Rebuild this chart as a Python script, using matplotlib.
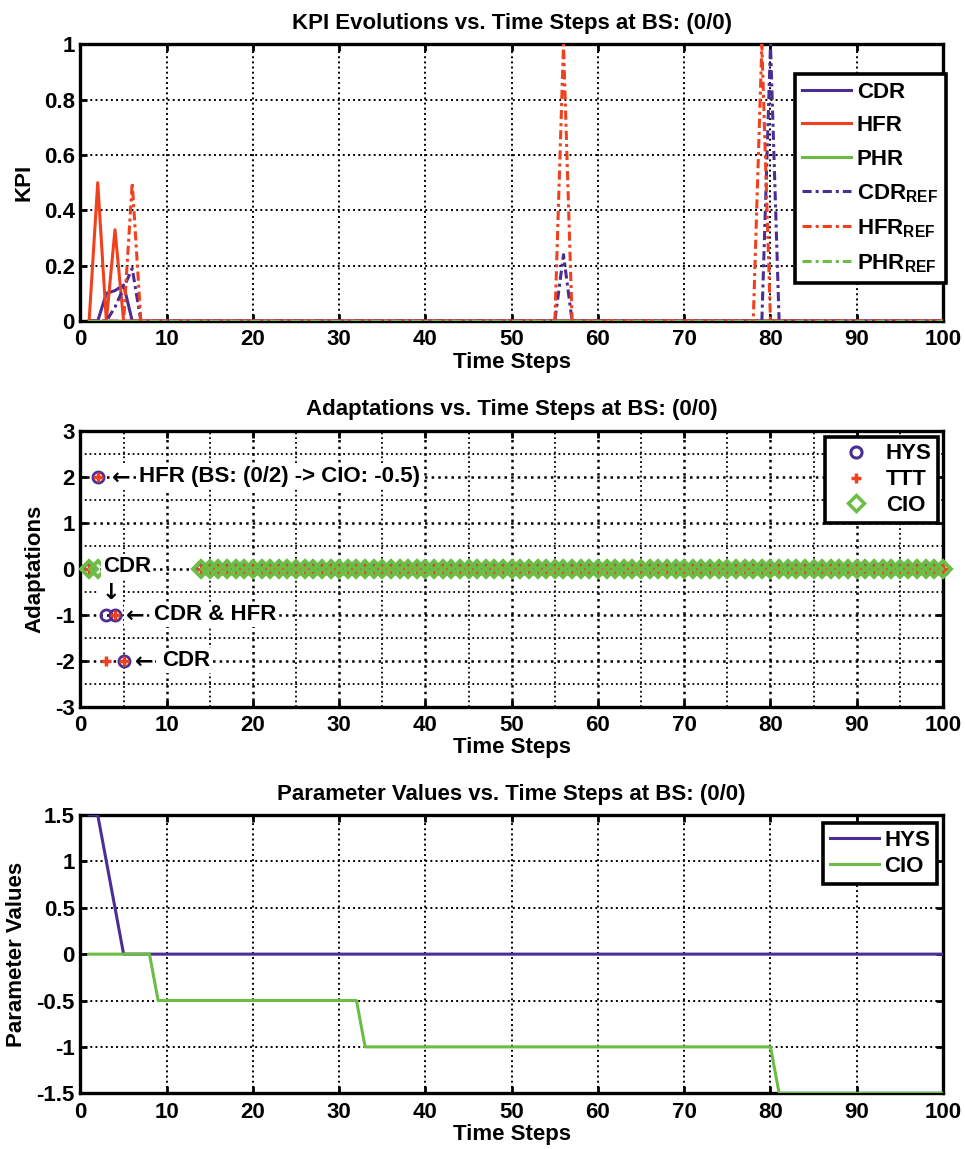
import numpy as np
import matplotlib
matplotlib.use('Agg')
import matplotlib.pyplot as plt
from matplotlib.ticker import MultipleLocator, FuncFormatter
from matplotlib.lines import Line2D

plt.rcParams['font.family'] = ['Liberation Sans', 'DejaVu Sans']
plt.rcParams['font.weight'] = 'bold'
plt.rcParams['axes.titleweight'] = 'bold'
plt.rcParams['axes.labelweight'] = 'bold'
plt.rcParams['axes.unicode_minus'] = False
plt.rcParams['mathtext.fontset'] = 'custom'
plt.rcParams['mathtext.rm'] = 'Liberation Sans:bold'
plt.rcParams['mathtext.bf'] = 'Liberation Sans:bold'
plt.rcParams['mathtext.it'] = 'Liberation Sans:bold'

PURPLE = '#4b2e95'
RED = '#f0411f'
GREEN = '#6cbd45'
FS = 16

time_steps = np.arange(1, 101)

# ---- KPI values (only the non-zero samples, keyed by time step) ----
cdr_nonzero = {3: 0.10, 4: 0.11, 5: 0.13}
hfr_nonzero = {2: 0.50, 4: 0.33}
phr_nonzero = {}
cdr_ref_nonzero = {4: 0.05, 5: 0.12, 6: 0.19, 56: 0.24, 80: 1.0}
hfr_ref_nonzero = {6: 0.50, 56: 1.0, 79: 1.0}
phr_ref_nonzero = {}

# ---- adaptations per time step ----
adapt_steps_early = [1, 2, 3, 4, 5]
hys_adapt_early = [0, 2, -1, -1, -2]
ttt_adapt_early = [0, 2, -2, -1, -2]
cio_steps_early = [1, 2]
cio_adapt_early = [0, 0]
adapt_steps_late = list(range(14, 101))
adapt_late = [0] * len(adapt_steps_late)

# ---- parameter values per time step ----
hys_values = [1.5, 1.5, 1.0, 0.5] + [0.0] * 96
cio_values = [0.0] * 8 + [-0.5] * 24 + [-1.0] * 48 + [-1.5] * 20


def kpi_series(nonzero):
    series = np.zeros(len(time_steps))
    for step, value in nonzero.items():
        series[step - 1] = value
    return series


def g_fmt(v, _pos):
    return '%g' % v


DASHDOT = (0, (3.0, 1.3, 1.0, 1.3))
LINE_Z = 3

fig = plt.figure(figsize=(9.65, 11.49), dpi=100)
left, width = 0.0834, 0.8938
ax1 = fig.add_axes([left, 0.7206, width, 0.2408])
ax2 = fig.add_axes([left, 0.3849, width, 0.2402])
ax3 = fig.add_axes([left, 0.0485, width, 0.2422])


def style_axes(ax, title, ylabel, ylim, ystep, grid_lw=1.4):
    ax.set_xlim(0, 100)
    ax.set_ylim(*ylim)
    ax.xaxis.set_major_locator(MultipleLocator(10))
    ax.yaxis.set_major_locator(MultipleLocator(ystep))
    ax.yaxis.set_major_formatter(FuncFormatter(g_fmt))
    ax.set_title(title, fontsize=FS, pad=11)
    ax.set_xlabel('Time Steps', fontsize=FS, labelpad=1)
    ax.set_ylabel(ylabel, fontsize=FS, labelpad=7)
    ax.tick_params(which='major', direction='in', length=5, width=2,
                   top=True, right=True, labelsize=FS)
    ax.tick_params(axis='x', pad=6)
    ax.tick_params(axis='y', pad=4)
    for sp in ax.spines.values():
        sp.set_linewidth(2.4)
    ax.set_axisbelow(True)
    ax.grid(True, which='major', linestyle=':', color='k', linewidth=grid_lw)


def style_legend(leg):
    leg.set_zorder(5)
    fr = leg.get_frame()
    fr.set_linewidth(2.6)
    fr.set_edgecolor('black')
    fr.set_facecolor('white')
    fr.set_alpha(1)


# ---------------- KPI panel ----------------
style_axes(ax1, 'KPI Evolutions vs. Time Steps at BS: (0/0)', 'KPI', (0, 1), 0.2)
lw = 2.2
ax1.plot(time_steps, kpi_series(cdr_nonzero), color=PURPLE, lw=lw, label='CDR', zorder=LINE_Z)
ax1.plot(time_steps, kpi_series(hfr_nonzero), color=RED, lw=lw, label='HFR', zorder=LINE_Z)
ax1.plot(time_steps, kpi_series(phr_nonzero), color=GREEN, lw=lw, label='PHR', zorder=LINE_Z)
ax1.plot(time_steps, kpi_series(cdr_ref_nonzero), color=PURPLE, lw=lw,
         linestyle=DASHDOT, label=r'CDR$_{\mathbf{REF}}$', zorder=LINE_Z)
ax1.plot(time_steps, kpi_series(hfr_ref_nonzero), color=RED, lw=lw,
         linestyle=DASHDOT, label=r'HFR$_{\mathbf{REF}}$', zorder=LINE_Z)
ax1.plot(time_steps, kpi_series(phr_ref_nonzero), color=GREEN, lw=lw,
         linestyle=DASHDOT, label=r'PHR$_{\mathbf{REF}}$', zorder=LINE_Z)
leg1 = ax1.legend(loc='upper right', bbox_to_anchor=(1.003, 0.893),
                  borderaxespad=0, fontsize=FS, fancybox=False,
                  handlelength=2.2, handletextpad=0.25, labelspacing=0.56,
                  borderpad=0.35)
style_legend(leg1)

# ---------------- Adaptations panel ----------------
style_axes(ax2, 'Adaptations vs. Time Steps at BS: (0/0)', 'Adaptations', (-3, 3), 1,
           grid_lw=1.8)
ax2.xaxis.set_minor_locator(MultipleLocator(5))
ax2.yaxis.set_minor_locator(MultipleLocator(0.5))
ax2.tick_params(which='minor', length=0)
ax2.grid(True, which='minor', linestyle=':', color='k', linewidth=1.3)

hys_kw = dict(linestyle='none', marker='o', markersize=8, mfc='none',
              mec=PURPLE, mew=2, clip_on=False, zorder=LINE_Z)
ttt_kw = dict(linestyle='none', marker='+', markersize=7, color=RED,
              mew=2.5, clip_on=False, zorder=LINE_Z)
cio_kw = dict(linestyle='none', marker='D', markersize=8.5, mfc='none',
              mec=GREEN, mew=2.8, clip_on=False, zorder=LINE_Z)
ax2.plot(adapt_steps_early, hys_adapt_early, **hys_kw)
ax2.plot(adapt_steps_late, adapt_late, **hys_kw)
ax2.plot(adapt_steps_early, ttt_adapt_early, **ttt_kw)
ax2.plot(adapt_steps_late, adapt_late, **ttt_kw)
ax2.plot(cio_steps_early, cio_adapt_early, **cio_kw)
ax2.plot(adapt_steps_late, adapt_late, **cio_kw)

white_box = dict(facecolor='white', edgecolor='none', pad=1.5)
arrow_kw = dict(fontsize=FS, fontweight='bold', family='DejaVu Sans',
                va='center', ha='left', zorder=4, bbox=white_box)
ann_kw = dict(fontsize=FS, fontweight='bold', va='center', ha='left', zorder=4,
              bbox=white_box)
ax2.text(3.7, 1.98, '\u2190', **arrow_kw)
ax2.text(6.8, 2, 'HFR (BS: (0/2) -> CIO: -0.5)', **ann_kw)
ax2.text(2.6, 0.05, 'CDR', **ann_kw)
ax2.text(3.5, -0.52, '\u2193', fontsize=FS, fontweight='bold', family='DejaVu Sans',
         va='center', ha='center', zorder=4, bbox=white_box)
ax2.text(5.3, -1.02, '\u2190', **arrow_kw)
ax2.text(8.5, -1, 'CDR & HFR', **ann_kw)
ax2.text(6.3, -2.02, '\u2190', **arrow_kw)
ax2.text(9.5, -2, 'CDR', **ann_kw)

marker_handles = [
    Line2D([], [], linestyle='none', marker='o', markersize=8, mfc='none', mec=PURPLE, mew=2.2),
    Line2D([], [], linestyle='none', marker='+', markersize=7, color=RED, mew=2.5),
    Line2D([], [], linestyle='none', marker='D', markersize=8, mfc='none', mec=GREEN, mew=2.5),
]
leg2 = ax2.legend(marker_handles, ['HYS', 'TTT', 'CIO'], loc='upper right',
                  bbox_to_anchor=(0.9946, 0.978), borderaxespad=0, fontsize=FS,
                  fancybox=False, handlelength=2.2, handletextpad=0.25,
                  labelspacing=0.22, borderpad=0.3, numpoints=1)
style_legend(leg2)

# ---------------- Parameter panel ----------------
style_axes(ax3, 'Parameter Values vs. Time Steps at BS: (0/0)', 'Parameter Values',
           (-1.5, 1.5), 0.5)
ax3.plot(time_steps, hys_values, color=PURPLE, lw=2.2, label='HYS', zorder=LINE_Z)
ax3.plot(time_steps, cio_values, color=GREEN, lw=2.2, label='CIO', zorder=LINE_Z)
leg3 = ax3.legend(loc='upper right', bbox_to_anchor=(0.9927, 0.970),
                  borderaxespad=0, fontsize=FS, fancybox=False,
                  handlelength=2.2, handletextpad=0.25, labelspacing=0.22,
                  borderpad=0.3)
style_legend(leg3)

fig.savefig('out.png', dpi=100)
